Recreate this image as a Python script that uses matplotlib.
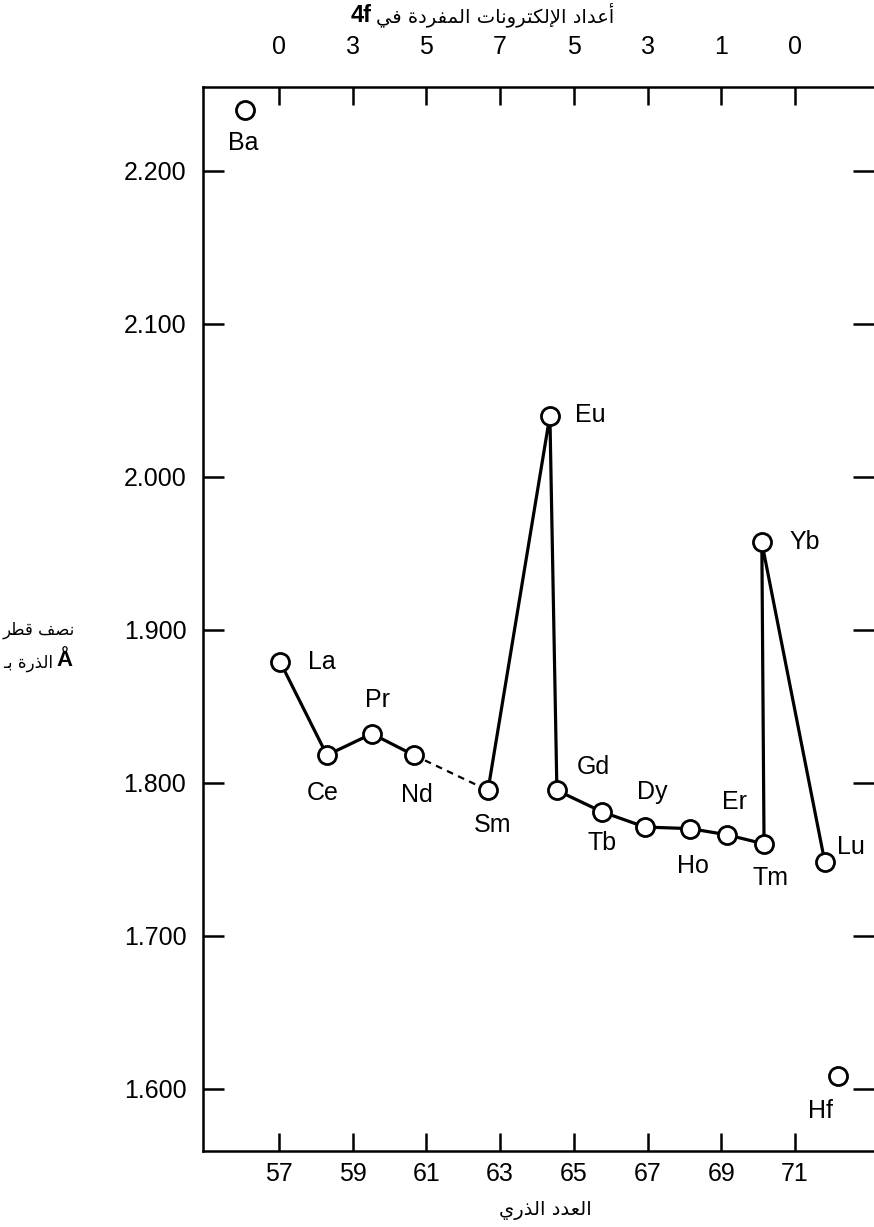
import matplotlib
matplotlib.use("Agg")
import re
import matplotlib.pyplot as plt

# data (x = plotted position along the atomic-number axis)
elements = ["Ba", "La", "Ce", "Pr", "Nd", "Sm", "Eu", "Gd", "Tb", "Dy",
            "Ho", "Er", "Tm", "Yb", "Lu", "Hf"]
x_pos = [56.08, 57.03, 58.30, 59.52, 60.66, 62.67, 64.35, 64.54, 65.76, 66.93,
         68.15, 69.15, 70.16, 70.10, 71.81, 72.17]
radius = [2.240, 1.879, 1.818, 1.832, 1.818, 1.795, 2.040, 1.795, 1.781, 1.771,
          1.770, 1.766, 1.760, 1.957, 1.748, 1.608]

z_ticks = [57, 59, 61, 63, 65, 67, 69, 71]
unpaired_4f = [0, 3, 5, 7, 5, 3, 1, 0]
y_ticks = [1.6, 1.7, 1.8, 1.9, 2.0, 2.1, 2.2]

title_ar = "أعداد الإلكترونات المفردة في"
xlabel_ar = "العدد الذري"
ylabel_ar1 = "نصف قطر"
ylabel_ar2 = "الذرة بـ"

# label offsets in pixels (dx right, dy down) relative to each point
lab_off = [(-2, 33), (42, 0), (-4, 38), (6, -34), (3, 40), (5, 35), (40, 0),
           (36, -23), (0, 31), (7, -35), (3, 37), (8, -33), (6, 34), (43, 0),
           (26, -15), (-18, 35)]


# --- minimal arabic shaping (matplotlib has no bidi / joining) ---
def _f(base, n):
    return tuple(chr(base + i) for i in range(n))

FORMS = {
    'آ': _f(0xFE81, 2), 'أ': _f(0xFE83, 2), 'إ': _f(0xFE87, 2), 'ا': _f(0xFE8D, 2),
    'ب': _f(0xFE8F, 4), 'ة': _f(0xFE93, 2), 'ت': _f(0xFE95, 4), 'ث': _f(0xFE99, 4),
    'ج': _f(0xFE9D, 4), 'ح': _f(0xFEA1, 4), 'خ': _f(0xFEA5, 4), 'د': _f(0xFEA9, 2),
    'ذ': _f(0xFEAB, 2), 'ر': _f(0xFEAD, 2), 'ز': _f(0xFEAF, 2), 'س': _f(0xFEB1, 4),
    'ش': _f(0xFEB5, 4), 'ص': _f(0xFEB9, 4), 'ض': _f(0xFEBD, 4), 'ط': _f(0xFEC1, 4),
    'ظ': _f(0xFEC5, 4), 'ع': _f(0xFEC9, 4), 'غ': _f(0xFECD, 4), 'ف': _f(0xFED1, 4),
    'ق': _f(0xFED5, 4), 'ك': _f(0xFED9, 4), 'ل': _f(0xFEDD, 4), 'م': _f(0xFEE1, 4),
    'ن': _f(0xFEE5, 4), 'ه': _f(0xFEE9, 4), 'و': _f(0xFEED, 2), 'ى': _f(0xFEEF, 2),
    'ي': _f(0xFEF1, 4),
}
LAM_ALEF = {'ا': ('\uFEFB', '\uFEFC'), 'أ': ('\uFEF7', '\uFEF8'),
            'إ': ('\uFEF9', '\uFEFA'), 'آ': ('\uFEF5', '\uFEF6')}


def _dual(c):
    return c == 'ـ' or (c in FORMS and len(FORMS[c]) == 4)


def _joins(c):
    return c == 'ـ' or c in FORMS


def arabic(text):
    out = []
    i, n = 0, len(text)
    while i < n:
        c = text[i]
        jp = i > 0 and _dual(text[i - 1]) and _joins(c)
        if c == 'ل' and i + 1 < n and text[i + 1] in LAM_ALEF:
            out.append(LAM_ALEF[text[i + 1]][1 if jp else 0])
            i += 2
            continue
        if c not in FORMS:
            out.append(c)
            i += 1
            continue
        nxt = text[i + 1] if i + 1 < n else ''
        jn = _dual(c) and _joins(nxt)
        f = FORMS[c]
        out.append(f[3] if (jp and jn) else f[1] if jp else f[2] if jn else f[0])
        i += 1
    s = "".join(out)
    runs = re.findall(r'[A-Za-z0-9Å.]+|[^A-Za-z0-9Å.]+', s)
    runs = [r if re.match(r'[A-Za-z0-9Å.]', r) else r[::-1] for r in runs]
    return "".join(runs[::-1])


plt.rcParams['font.family'] = ['Liberation Sans', 'DejaVu Sans']
W, H = 874, 1227
fig = plt.figure(figsize=(W / 100, H / 100), dpi=100)

left, right, top, bottom = 203, 874, 87, 1151
ax = fig.add_axes([left / W, 1 - bottom / H, (right - left) / W, (bottom - top) / H])

px_x = 36.86          # pixels per atomic number unit
px_y = 1530.0         # pixels per angstrom
ax.set_xlim(57 - (279 - left) / px_x, 71 + (right - 795) / px_x)
ax.set_ylim(2.2 - (bottom - 170.7) / px_y, 2.2 + (170.7 - top) / px_y)

lw = 2.3
ax.plot(x_pos[1:5], radius[1:5], color='black', lw=lw, zorder=2)
ax.plot(x_pos[4:6], radius[4:6], color='black', lw=1.6, ls=(0, (3, 2.5)), zorder=2)
ax.plot(x_pos[5:15], radius[5:15], color='black', lw=lw, zorder=2)
ax.plot(x_pos, radius, ls='none', marker='o', ms=13, mfc='white', mec='black',
        mew=2.0, zorder=3)

for name, x, y, (dx, dy) in zip(elements, x_pos, radius, lab_off):
    ax.annotate(name, (x, y), xytext=(dx * 0.72, -dy * 0.72),
                textcoords='offset points', ha='center', va='center',
                fontsize=18)

ax.spines['right'].set_visible(False)
for s in ['left', 'bottom', 'top']:
    ax.spines[s].set_linewidth(1.8)

ax.set_xticks(z_ticks)
ax.set_xticklabels([str(z) for z in z_ticks])
ax.set_yticks(y_ticks)
ax.set_yticklabels([f"{v:.3f}" for v in y_ticks])
ax.tick_params(axis='x', direction='in', length=13, width=1.8, labelsize=18, pad=8)
ax.tick_params(axis='y', direction='in', length=15, width=1.8, labelsize=18, pad=12,
               left=True, right=True)

sec = ax.secondary_xaxis('top')
sec.set_xticks(z_ticks)
sec.set_xticklabels([str(u) for u in unpaired_4f])
sec.tick_params(direction='in', length=13, width=1.8, labelsize=18, pad=20)
sec.spines['top'].set_visible(False)

ar = dict(family=['DejaVu Sans'], color='black')
t_title = fig.text(376 / W, 1 - 15 / H, arabic(title_ar), ha='left', va='center',
                   fontsize=14, **ar)
fig.text(372 / W, 1 - 15 / H, "4f", ha='right', va='center', fontsize=17,
         fontweight='bold')
fig.text(545 / W, 1 - 1210 / H, arabic(xlabel_ar), ha='center', va='center',
         fontsize=14, **ar)
fig.text(3 / W, 1 - 630 / H, arabic(ylabel_ar1), ha='left', va='center',
         fontsize=12, **ar)
t_y2 = fig.text(3 / W, 1 - 663 / H, arabic(ylabel_ar2), ha='left', va='center',
                fontsize=12, **ar)

# put the Å right after the arabic second line
fig.canvas.draw()
bb = t_y2.get_window_extent()
fig.text((bb.x1 + 3) / W, 1 - 661 / H, "Å", ha='left', va='center', fontsize=16,
         fontweight='bold')

fig.savefig("out.png", dpi=100)
